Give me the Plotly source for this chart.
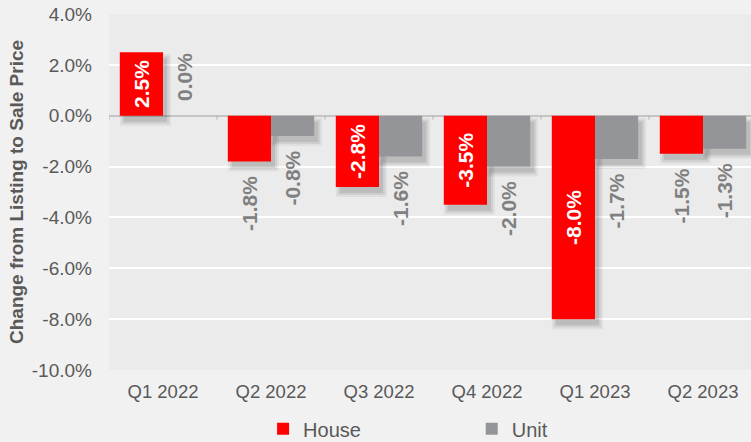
import plotly.graph_objects as go

quarters = ["Q1 2022", "Q2 2022", "Q3 2022", "Q4 2022", "Q1 2023", "Q2 2023"]
house = [2.5, -1.8, -2.8, -3.5, -8.0, -1.5]
unit = [0.0, -0.8, -1.6, -2.0, -1.7, -1.3]
house_pos = ["inside", "outside", "inside", "inside", "inside", "outside"]
unit_pos = ["outside"] * 6
y_ticks = [4, 2, 0, -2, -4, -6, -8, -10]
y_title = "Change from Listing to Sale Price"

RED = "#ff0000"
GREY = "#939598"
TXT = "#595959"
LBL = "#808080"
FONT = "Liberation Sans, Arial, sans-serif"
NB = "\u00a0\u00a0"

PX_Y = 25.4   # approx pixels per 1% on y
PX_X = 108.0  # approx pixels per category on x
BAR_W = 0.4


def labels(vals, pos):
    out = []
    for v, p in zip(vals, pos):
        s = f"{v:.1f}%"
        if p == "outside":
            s = (NB + s) if v >= 0 else (s + NB)
        out.append(s)
    return out


fig = go.Figure()

# soft drop shadows (layers of translucent rectangles)
dy = 6 / PX_Y
for grow, alpha in [(4, 0.05), (2, 0.07), (0, 0.09)]:
    gx = grow / PX_X
    gy = grow / PX_Y
    for vals, off in [(house, -BAR_W), (unit, 0.0)]:
        lo = [min(0, v) - dy - gy if v != 0 else None for v in vals]
        hi = [max(0, v) - dy + gy if v != 0 else None for v in vals]
        fig.add_trace(go.Bar(
            x=quarters,
            base=lo,
            y=[(h - l) if l is not None else None for l, h in zip(lo, hi)],
            offset=off + 4 / PX_X - gx,
            width=BAR_W + 2 * gx,
            marker=dict(color=f"rgba(0,0,0,{alpha})", line=dict(width=0)),
            showlegend=False, hoverinfo="skip",
        ))

fig.add_trace(go.Bar(
    x=quarters, y=house, name="House",
    offset=-BAR_W, width=BAR_W,
    marker=dict(color=RED, line=dict(width=0)),
    text=labels(house, house_pos), textposition=house_pos,
    textangle=-90, insidetextanchor="middle", constraintext="none",
    insidetextfont=dict(family=FONT, size=21, color="white", weight="bold"),
    outsidetextfont=dict(family=FONT, size=21, color=LBL, weight="bold"),
    cliponaxis=False,
))
fig.add_trace(go.Bar(
    x=quarters, y=unit, name="Unit", legend="legend2",
    offset=0.0, width=BAR_W,
    marker=dict(color=GREY, line=dict(width=0)),
    text=labels(unit, unit_pos), textposition=unit_pos,
    textangle=-90, constraintext="none",
    outsidetextfont=dict(family=FONT, size=21, color=LBL, weight="bold"),
    cliponaxis=False,
))

# small tick marks on the zero line at category boundaries
for i in range(len(quarters)):
    fig.add_shape(type="line", xref="x", yref="y",
                  x0=i - 0.5, x1=i - 0.5, y0=0, y1=-4 / PX_Y,
                  line=dict(color="#b5b5b5", width=1))

# y-axis title as a rotated annotation (placed like the reference)
fig.add_annotation(text=f"<b>{y_title}</b>", xref="paper", yref="paper",
                   x=(16 - 109) / 642, y=0.5, xanchor="center", yanchor="middle",
                   textangle=-90, showarrow=False,
                   font=dict(family=FONT, size=19, color=TXT))

fig.update_layout(
    width=751, height=442,
    margin=dict(l=109, r=0, t=14, b=72, autoexpand=False),
    paper_bgcolor="#f1f1f1",
    plot_bgcolor="#ebebeb",
    barmode="overlay",
    font=dict(family=FONT, color=TXT, size=18),
    legend=dict(orientation="h", x=0.24, y=-0.165, xanchor="left", yanchor="middle",
                bgcolor="rgba(0,0,0,0)", font=dict(size=20, color=TXT)),
    legend2=dict(orientation="h", x=0.565, y=-0.165, xanchor="left", yanchor="middle",
                 bgcolor="rgba(0,0,0,0)", font=dict(size=20, color=TXT)),
    xaxis=dict(range=[-0.5, -0.5 + 642 / PX_X], showgrid=False, showline=False,
               zeroline=False, ticks="", tickfont=dict(size=18.5, color=TXT),
               ticklabelstandoff=8, automargin=False),
    yaxis=dict(range=[-10, 4], tickvals=y_ticks,
               ticktext=[f"{v:.1f}%" for v in y_ticks],
               showgrid=True, gridcolor="#ffffff", gridwidth=1.5,
               zeroline=True, zerolinecolor="#c4c4c4", zerolinewidth=1.5,
               showline=False, ticks="", ticklabelstandoff=16, automargin=False,
               tickfont=dict(size=19, color=TXT)),
)

fig.write_html("out.html", config={"displayModeBar": False},
               post_script="document.body.style.margin='0';document.body.style.background='#f1f1f1';")
